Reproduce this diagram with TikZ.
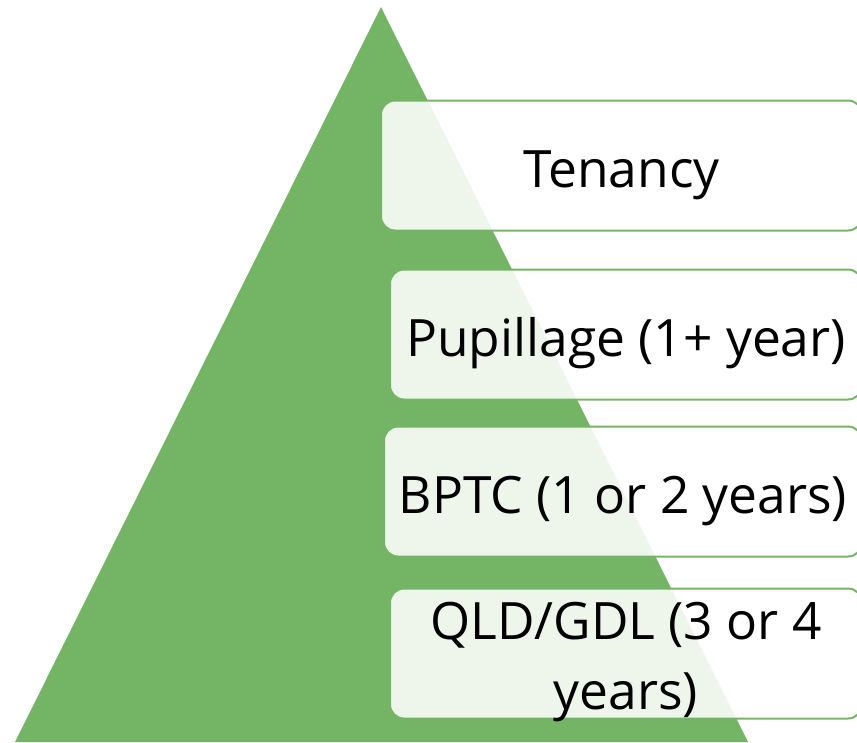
\documentclass[tikz,border=0pt]{standalone}
\usepackage{fontspec}
\setmainfont{Open Sans}
\usetikzlibrary{positioning}

\definecolor{leafgreen}{RGB}{116,181,101}

\begin{document}
\begin{tikzpicture}[
    x=1pt, y=-1pt,
    stage/.style = {draw=leafgreen, line width=2pt, fill=white, fill opacity=0.88,
                    text opacity=1, rounded corners=14pt, minimum width=472pt,
                    minimum height=130pt, align=center, inner sep=0pt,
                    text height=56pt, text depth=12pt},
    every node/.style={font=\fontsize{51.5}{70}\selectfont}
  ]
  \useasboundingbox (0,0) rectangle (857,742);
  \clip (0,0) rectangle (857,742);

  % Pyramid
  \fill[leafgreen] (381,7) -- (748,742) -- (15,742) -- cycle;

  % Stages, top to bottom
  \node[stage, minimum width=481pt] (tenancy) at (621.5,165.5) {Tenancy};
  \node[stage, below=37pt of tenancy, xshift=4.5pt] (pupillage) {Pupillage (1+ year)};
  \node[stage, below=25pt of pupillage, minimum width=478pt, xshift=-3pt] (bptc) {BPTC (1 or 2 years)};
  \node[stage, below=30pt of bptc, xshift=3pt, text height=121pt, text depth=9pt] (qld) {QLD/GDL (3 or 4\\years)};

\end{tikzpicture}
\end{document}
